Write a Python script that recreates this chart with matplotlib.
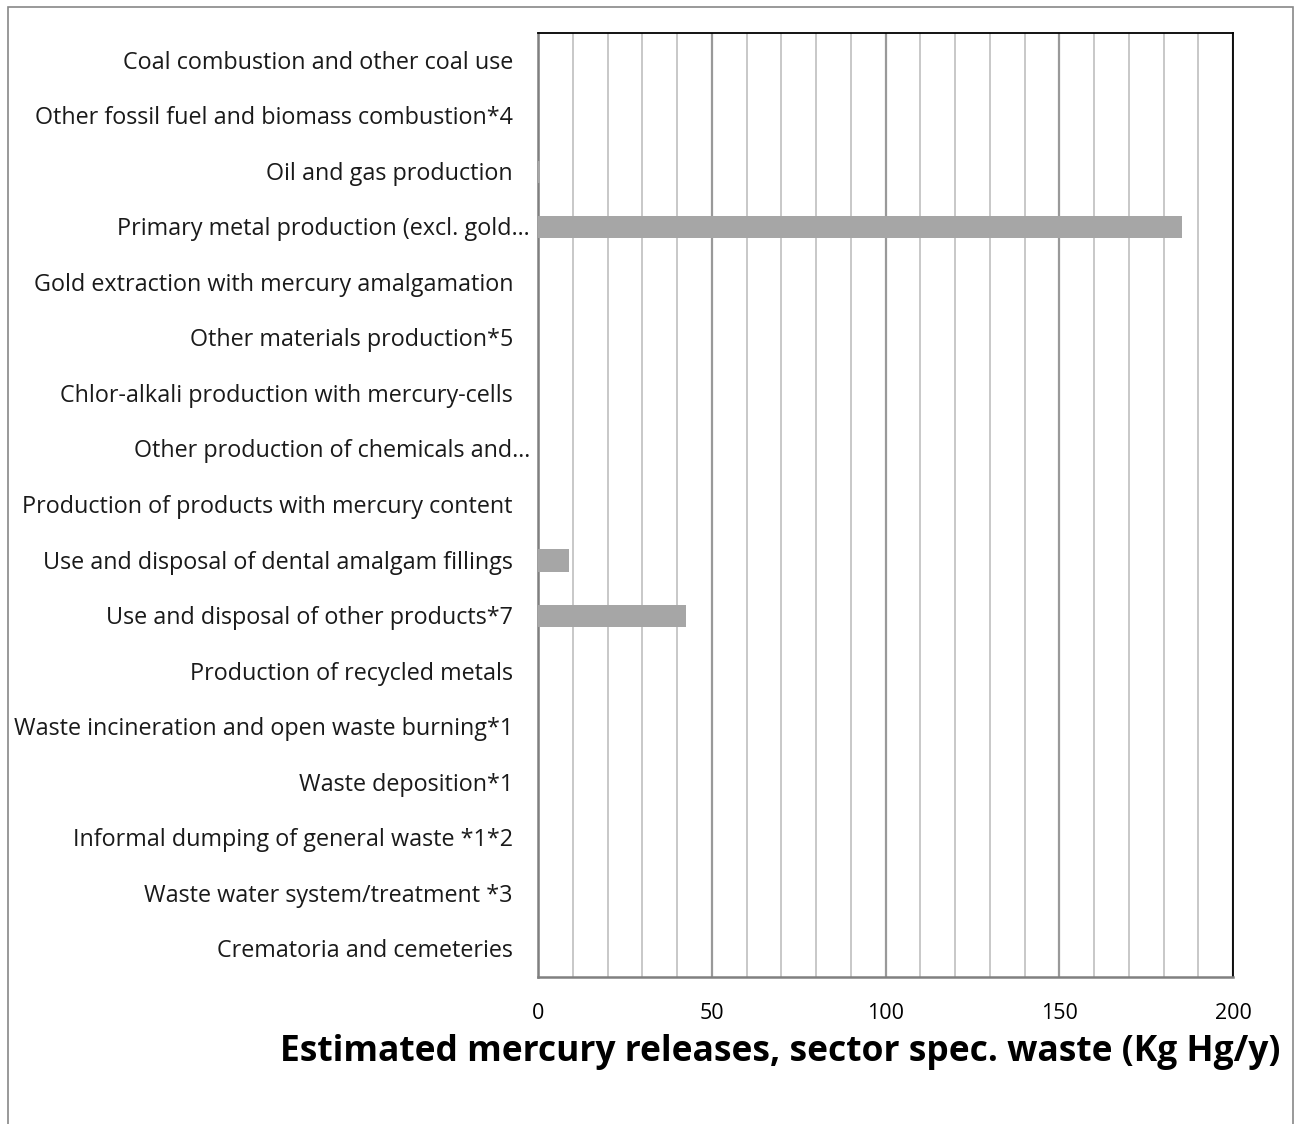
import numpy
import matplotlib
matplotlib.use("Agg")
from matplotlib import pyplot
from matplotlib.patches import Rectangle

# sectors, top to bottom
sectors = [
    "Coal combustion and other coal use",
    "Other fossil fuel and biomass combustion*4",
    "Oil and gas production",
    "Primary metal production (excl. gold…",
    "Gold extraction with mercury amalgamation",
    "Other materials production*5",
    "Chlor-alkali production with mercury-cells",
    "Other production of chemicals and…",
    "Production of products with mercury content",
    "Use and disposal of dental amalgam fillings",
    "Use and disposal of other products*7",
    "Production of recycled metals",
    "Waste incineration and open waste burning*1",
    "Waste deposition*1",
    "Informal dumping of general waste *1*2",
    "Waste water system/treatment *3",
    "Crematoria and cemeteries",
]
# Kg Hg/y
releases = [0.0, 0.0, 0.6, 185.3, 0.0, 0.0, 0.0, 0.0, 0.0, 8.9, 42.6,
            0.0, 0.0, 0.0, 0.0, 0.0, 0.0]
xticks = [0, 50, 100, 150, 200]

pyplot.rcParams['font.family'] = ['Open Sans', 'DejaVu Sans']

W, H = 1299, 1124
fig = pyplot.figure(figsize=(W / 100, H / 100), dpi=100)

# outer chart frame
fig.patches.append(Rectangle((8 / W, -0.01), (1293 - 8) / W, 1.01 - 7 / H,
                             transform=fig.transFigure, fill=False,
                             edgecolor='#888888', linewidth=1.2))

left, right, top, bottom = 538, 1233, 33, 977
ax = fig.add_axes([left / W, 1 - bottom / H, (right - left) / W, (bottom - top) / H])

n = len(sectors)
y = numpy.arange(n)
ax.barh(y, releases, height=0.4, color='#a6a6a6', zorder=3)
ax.set_ylim(n - 0.5, -0.5)
ax.set_xlim(0, 200)

ax.set_xticks(xticks)
ax.set_xticks(numpy.arange(0, 201, 10), minor=True)
ax.grid(which='major', axis='x', color='#999999', linewidth=1.6, zorder=0)
ax.grid(which='minor', axis='x', color='#c8c8c8', linewidth=1.4, zorder=0)
ax.tick_params(axis='x', which='both', length=0, pad=19, labelsize=15.5)
ax.set_yticks([])

for side in ['left', 'bottom']:
    ax.spines[side].set_color('#808080')
    ax.spines[side].set_linewidth(1.8)
for side in ['top', 'right']:
    ax.spines[side].set_color('black')
    ax.spines[side].set_linewidth(1.3)

# category labels, truncated ones run closer to the axis
for i, name in enumerate(sectors):
    xpos = 530 if name.endswith("…") else 513
    ypos = top + 2 + (i + 0.5) * (bottom - top) / n
    fig.text(xpos / W, 1 - ypos / H, name,
             ha='right', va='center', fontsize=16.8, color='#1a1a1a')

fig.text(780 / W, 1 - 1052 / H,
         "Estimated mercury releases, sector spec. waste (Kg Hg/y)",
         ha='center', va='center', fontsize=25.5, fontweight='bold')

fig.savefig('out.png', dpi=100)
